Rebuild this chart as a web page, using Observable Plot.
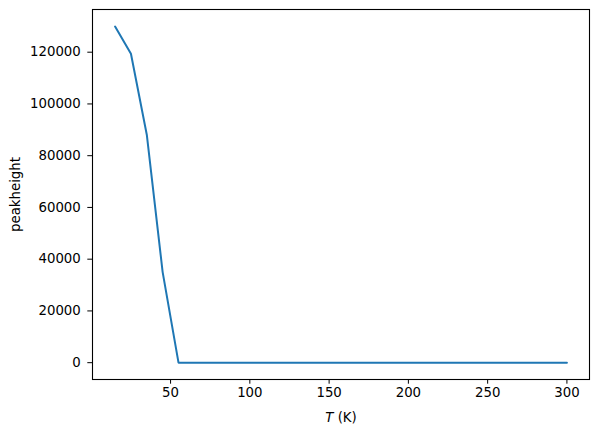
<!DOCTYPE html>
<html>
<head>
<meta charset="utf-8">
<script src="https://cdn.jsdelivr.net/npm/d3@7"></script>
<script src="https://cdn.jsdelivr.net/npm/@observablehq/plot@0.6"></script>
<style>
  html, body { margin: 0; padding: 0; background: white; }
</style>
</head>
<body>
<div id="chart"></div>
<script>
const temperatures = [15, 25, 35, 45, 55, 75, 100, 125, 150, 175, 200, 225, 250, 275, 300];
const peakheights = [129900, 119400, 88100, 35000, 0, 0, 0, 0, 0, 0, 0, 0, 0, 0, 0];
const xTicks = [50, 100, 150, 200, 250, 300];
const yTicks = [0, 20000, 40000, 60000, 80000, 100000, 120000];

const data = temperatures.map((t, i) => ({T: t, h: peakheights[i]}));

const chart = Plot.plot({
  width: 597,
  height: 434,
  marginLeft: 92,
  marginRight: 8,
  marginTop: 9,
  marginBottom: 55,
  style: {fontFamily: "DejaVu Sans", fontSize: "13.3px", background: "white", color: "black"},
  x: {domain: [0.75, 314.25]},
  y: {domain: [-6500, 136500]},
  marks: [
    Plot.axisX({ticks: xTicks, tickSize: 4.7, tickPadding: 3.5, label: "T (K)", labelAnchor: "center", labelArrow: "none", labelOffset: 42}),
    Plot.axisY({ticks: yTicks, tickSize: 4.7, tickPadding: 7, tickFormat: "d", label: "peakheight", labelAnchor: "center", labelArrow: "none", labelOffset: 82}),
    Plot.line(data, {x: "T", y: "h", stroke: "#1f77b4", strokeWidth: 2}),
    Plot.frame({stroke: "black", strokeWidth: 1.1})
  ]
});

d3.select(chart).selectAll("text").each(function() {
  if (this.textContent === "T (K)") {
    const sel = d3.select(this);
    sel.text("");
    sel.append("tspan").attr("font-style", "italic").text("T");
    sel.append("tspan").text(" (K)");
  }
});

document.getElementById("chart").appendChild(chart);
</script>
</body>
</html>
